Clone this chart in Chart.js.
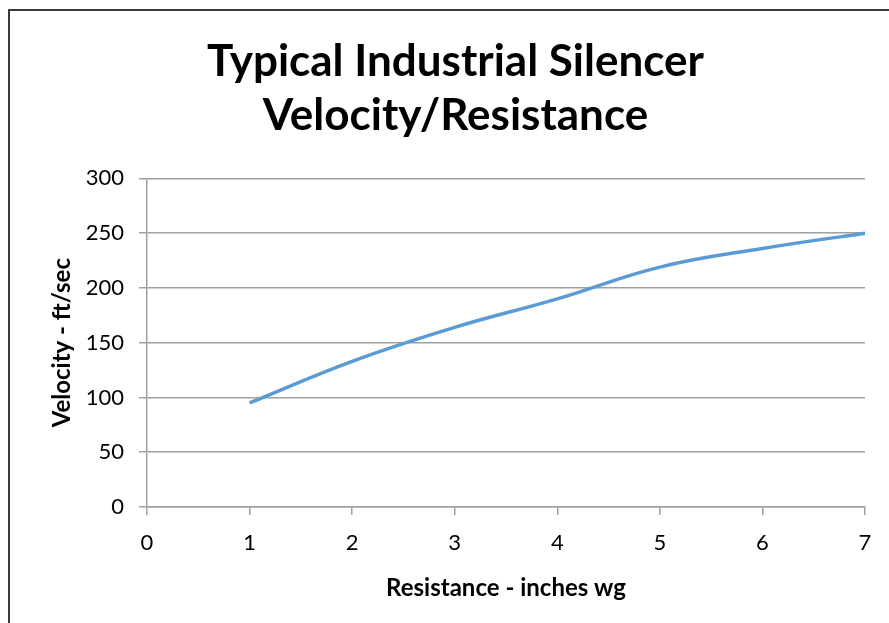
<!DOCTYPE html>
<html>
<head>
<meta charset="utf-8">
<script src="https://cdn.jsdelivr.net/npm/chart.js@4.4.1/dist/chart.umd.min.js"></script>
<style>
  html, body { margin: 0; padding: 0; background: #fff; overflow: hidden; }
  #frame { position: absolute; left: 8px; top: 9px; width: 1000px; height: 1000px;
           border-left: 2px solid #3a3a3a; border-top: 2px solid #3a3a3a; }
  #wrap { position: absolute; left: 0; top: 0; width: 889px; height: 623px; }
</style>
</head>
<body>
<div id="frame"></div>
<div id="wrap"><canvas id="chart"></canvas></div>
<script>
// resistance (inches wg) vs velocity (ft/sec)
const resistance = [1, 2, 3, 4, 5, 6, 7];
const velocity = [95, 133, 164, 190, 219, 236, 250];
const titleLines = ['Typical Industrial Silencer', 'Velocity/Resistance'];
const xTitle = 'Resistance - inches wg';
const yTitle = 'Velocity - ft/sec';

const font = 'Lato, "Open Sans", sans-serif';
const gridColor = '#a0a0a0';

const ctx = document.getElementById('chart').getContext('2d');
new Chart(ctx, {
    type: 'line',
    data: {
        datasets: [{
            data: resistance.map((r, i) => ({ x: r, y: velocity[i] })),
            borderColor: '#5b9bd5',
            borderWidth: 3.5,
            pointRadius: 0,
            tension: 0.4,
            fill: false
        }]
    },
    options: {
        responsive: true,
        maintainAspectRatio: false,
        animation: false,
        devicePixelRatio: 1,
        layout: { padding: { left: 46, right: 24, top: 0, bottom: 0 } },
        plugins: {
            legend: { display: false },
            tooltip: { enabled: false },
            title: {
                display: true,
                text: titleLines,
                color: '#000',
                font: { family: font, size: 44, weight: 'bold', lineHeight: 1.22 },
                padding: { top: 35, bottom: 36 }
            }
        },
        scales: {
            x: {
                type: 'linear',
                min: 0,
                max: 7,
                ticks: { stepSize: 1, color: '#000', font: { family: font, size: 22 }, padding: 15 },
                grid: { drawOnChartArea: false, drawTicks: true, tickLength: 8, color: gridColor, lineWidth: 1.5 },
                border: { display: true, color: gridColor, width: 1.5 },
                title: {
                    display: true,
                    text: xTitle,
                    color: '#000',
                    font: { family: font, size: 24, weight: 'bold' },
                    padding: { top: 0, bottom: 20 }
                },
                afterFit: s => { s.height = 116; }
            },
            y: {
                min: 0,
                max: 300,
                ticks: { stepSize: 50, color: '#000', font: { family: font, size: 22 }, padding: 15 },
                grid: { drawTicks: true, tickLength: 8, color: gridColor, lineWidth: 1.5 },
                border: { display: true, color: gridColor, width: 1.5 },
                title: {
                    display: true,
                    text: yTitle,
                    color: '#000',
                    font: { family: font, size: 24, weight: 'bold' },
                    padding: { top: 2, bottom: 0 }
                },
                afterFit: s => { s.width = 101; }
            }
        }
    }
});
</script>
</body>
</html>
